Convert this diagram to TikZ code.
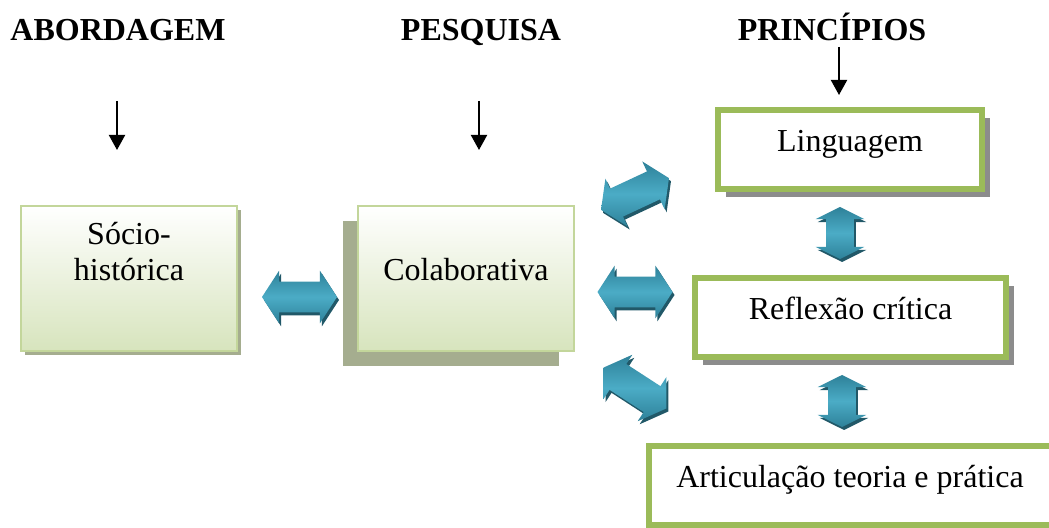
\documentclass[tikz,border=0pt]{standalone}
\usepackage{fontspec}
\setmainfont{Liberation Serif}
\usetikzlibrary{shapes.arrows, shadows, arrows.meta, positioning}
\definecolor{boxline}{HTML}{C3D69B}
\definecolor{boxfill}{HTML}{D7E4BD}
\definecolor{boxshade}{HTML}{A5AD8F}
\definecolor{prinline}{HTML}{9BBB59}
\definecolor{arrlight}{HTML}{4BACC6}
\definecolor{arrmid}{HTML}{2E8199}
\definecolor{arrdark}{HTML}{215868}
\tikzstyle{heading} = [font=\fontsize{16}{18}\selectfont\bfseries, anchor=base, inner sep=0pt]
\tikzstyle{greenbox} = [rectangle, draw=boxline, line width=1pt, top color=white, bottom color=boxfill, minimum width=108pt, minimum height=72.5pt, inner sep=0pt, text height=11pt, text depth=9pt, font=\fontsize{16}{18}\selectfont]
\tikzstyle{princbox} = [rectangle, draw=prinline, line width=3pt, fill=white, minimum height=39.5pt, inner sep=0pt, text height=11pt, text depth=9pt, font=\fontsize{16}{18}\selectfont, drop shadow={shadow xshift=4pt, shadow yshift=-4pt, fill=black!45, opacity=1}]
\tikzstyle{blockarrow} = [double arrow, draw=none, inner sep=0pt, inner ysep=7.5pt, minimum height=37.5pt, minimum width=26pt, double arrow head extend=5.5pt, double arrow tip angle=114, top color=arrmid, bottom color=arrmid, middle color=arrlight, drop shadow={shadow xshift=1pt, shadow yshift=-1.5pt, fill=arrdark, opacity=1}]
\tikzstyle{uparrow} = [blockarrow, rotate=90, inner ysep=6.75pt, minimum height=26pt, minimum width=24pt, double arrow head extend=5.25pt, double arrow tip angle=127]
\tikzstyle{arrow} = [line width=1pt, -{Triangle[length=7.5pt, width=8pt]}]

\begin{document}
\begin{tikzpicture}[x=0.5pt, y=-0.5pt]
\useasboundingbox (0,0) rectangle (1049,528);

% column headings
\node (abord) [heading] at (118,41) {ABORDAGEM};
\node (pesq) [heading] at (481,41) {PESQUISA};
\node (princ) [heading] at (832,41) {PRINCÍPIOS};

\coordinate (abordtop) at (117,101);
\coordinate (abordbot) at (117,150);
\coordinate (pesqtop) at (479,101);
\coordinate (pesqbot) at (479,150);
\coordinate (princtop) at (839,47);
\coordinate (princbot) at (839,95);

% left boxes
\node (socio) [greenbox, drop shadow={shadow xshift=2pt, shadow yshift=-2pt, fill=boxshade, opacity=1}] at (129,278.5) {};
\node (sociotxt) [below=8.5pt of socio.north, align=center, inner sep=0pt, font=\fontsize{16}{18}\selectfont] {Sócio-\\histórica};
\node (colab) [greenbox, drop shadow={shadow xshift=-7.5pt, shadow yshift=-7.5pt, fill=boxshade, opacity=1}] at (466,278.5) {Colaborativa};

% principles
\node (ling) [princbox, minimum width=132pt] at (850,149.5) {Linguagem};
\node (refl) [princbox, minimum width=155.5pt] at (850.5,318) {Reflexão crítica};
\node (artic) [princbox, minimum width=215pt, anchor=west] at (646,485.5) {};
\node (artictxt) [inner sep=0pt, text height=11pt, text depth=9pt, font=\fontsize{16}{18}\selectfont] at (850,485.5) {Articulação teoria e prática};

% block arrows
\node (arrsc) [blockarrow] at (299.5,297) {};
\node (arrmidr) [blockarrow] at (635,292) {};
\node (arrup) [blockarrow, rotate=25] at (635,194) {};
\node (arrdown) [blockarrow, rotate=-33] at (635,388) {};
\node (arrlr) [uparrow] at (840,233) {};
\node (arrra) [uparrow] at (842,401) {};

\draw [arrow] (abordtop) -- (abordbot);
\draw [arrow] (pesqtop) -- (pesqbot);
\draw [arrow] (princtop) -- (princbot);

\end{tikzpicture}
\end{document}
